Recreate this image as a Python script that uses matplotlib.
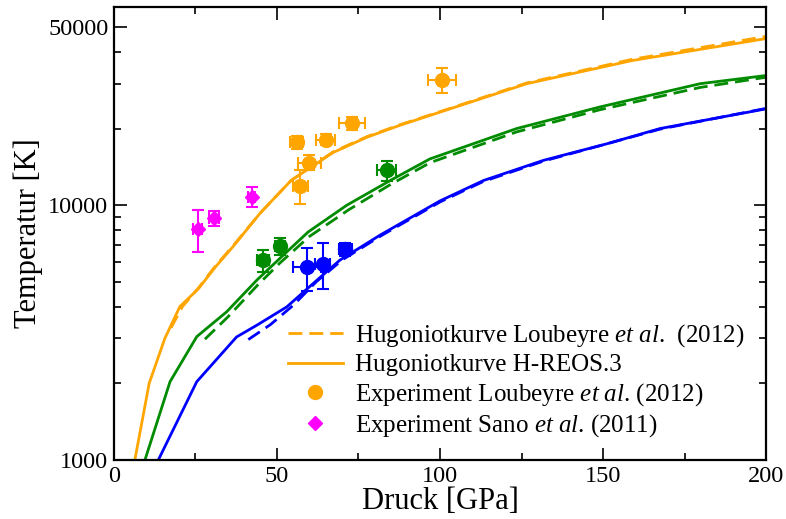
import matplotlib
matplotlib.use("Agg")
import matplotlib.pyplot as plt
from matplotlib.lines import Line2D
from matplotlib.ticker import FixedLocator, FixedFormatter, NullFormatter

plt.rcParams['font.family'] = ['Liberation Serif', 'DejaVu Serif']
plt.rcParams['mathtext.fontset'] = 'custom'
plt.rcParams['mathtext.rm'] = 'Liberation Serif'
plt.rcParams['mathtext.it'] = 'Liberation Serif:italic'

# Hugoniot curves: H-REOS.3 (solid) and Loubeyre et al. 2012 (dashed)
p_orange_reos = [6.4, 10.8, 15.6, 20.2, 25.9, 31.0, 36.6, 44.8, 54.3, 67.2, 77.6, 87.7, 100, 126.6, 159, 200]
t_orange_reos = [1000, 2000, 3000, 4000, 4700, 5700, 6900, 9300, 12500, 16100, 18500, 20600, 23200, 30000, 37000, 45100]
p_orange_loub = [17.5, 21.0, 26.0, 31.0, 36.6, 44.8, 54.3, 67.2, 77.6, 87.7, 100, 126.6, 159, 200]
t_orange_loub = [3300, 4000, 4750, 5750, 6950, 9300, 12500, 16200, 18600, 20700, 23300, 30200, 37400, 46000]

p_green_reos = [9.5, 17.2, 25.4, 34.6, 43.8, 50.9, 59.6, 71.4, 84.7, 96.9, 123.5, 149, 179.8, 200]
t_green_reos = [1000, 2030, 3050, 3820, 5080, 6190, 7860, 10000, 12500, 15200, 20000, 24300, 30000, 32300]
p_green_loub = [27.9, 35.0, 44.0, 51.0, 60.0, 72.0, 85.0, 97.0, 123.5, 149, 179.8, 200]
t_green_loub = [2980, 3650, 4850, 5950, 7550, 9600, 12100, 14700, 19400, 23700, 29000, 31800]

p_blue_reos = [13.6, 25.4, 37.6, 43.8, 53.0, 61.1, 69.3, 81.6, 100, 113.3, 131.7, 151, 167.5, 200]
t_blue_reos = [1000, 2030, 3040, 3380, 3990, 4930, 6090, 7630, 10400, 12500, 15000, 17400, 20000, 23900]
p_blue_loub = [41.2, 48.0, 55.0, 62.0, 70.0, 82.0, 100, 113.3, 131.7, 151, 167.5, 200]
t_blue_loub = [2970, 3400, 4050, 5000, 6100, 7600, 10300, 12400, 14900, 17400, 19900, 24000]

# Experimental data, Loubeyre et al. (2012)
p_orange_exp = [56.0, 64.9, 73.1, 59.9, 57.1, 100.6]
t_orange_exp = [17700, 18100, 21000, 14700, 11900, 31100]
perr_orange = [2.1, 3.0, 4.0, 3.6, 2.3, 4.2]
terr_orange = [1000, 900, 1300, 1000, 1800, 3400]

p_green_exp = [45.8, 50.9, 83.6]
t_green_exp = [6080, 6920, 13700]
perr_green = [1.8, 1.5, 3.0]
terr_green = [600, 550, 1200]

p_blue_exp = [59.1, 64.0, 70.9]
t_blue_exp = [5700, 5900, 6710]
perr_blue = [4.3, 2.3, 2.0]
terr_blue = [1100, 1200, 400]

# Experimental data, Sano et al. (2011)
p_sano = [25.7, 30.7, 42.2]
t_sano = [8040, 8910, 10800]
perr_sano = [1.4, 1.5, 1.0]
terr_sano = [1500, 600, 950]

ORANGE = '#FFA500'
GREEN = '#008B00'
BLUE = '#0000FF'
MAGENTA = '#FF00FF'

fig = plt.figure(figsize=(7.86, 5.19), dpi=100)
ax = fig.add_axes([0.145, 0.1137, 0.8296, 0.8728])

lw = 2.0
dash = (5, 2.5)
for c, ps, ts, pl, tl in [(ORANGE, p_orange_reos, t_orange_reos, p_orange_loub, t_orange_loub),
                          (GREEN, p_green_reos, t_green_reos, p_green_loub, t_green_loub),
                          (BLUE, p_blue_reos, t_blue_reos, p_blue_loub, t_blue_loub)]:
    ax.plot(ps, ts, color=c, lw=lw, solid_joinstyle='miter')
    ax.plot(pl, tl, color=c, lw=lw, dashes=dash)

for c, p, t, pe, te in [(ORANGE, p_orange_exp, t_orange_exp, perr_orange, terr_orange),
                        (GREEN, p_green_exp, t_green_exp, perr_green, terr_green),
                        (BLUE, p_blue_exp, t_blue_exp, perr_blue, terr_blue)]:
    ax.errorbar(p, t, xerr=pe, yerr=te, fmt='o', color=c, ms=10, elinewidth=1.5,
                capsize=4.5, capthick=1.5, zorder=4)

ax.errorbar(p_sano, t_sano, xerr=perr_sano, yerr=terr_sano, fmt='D', color=MAGENTA,
            ms=7.5, elinewidth=1.5, capsize=4.5, capthick=1.5, zorder=4)

ax.set_yscale('log')
ax.set_xlim(0, 200)
ax.set_ylim(1000, 60000)

ax.xaxis.set_major_locator(FixedLocator([0, 50, 100, 150, 200]))
ax.xaxis.set_minor_locator(FixedLocator([25, 75, 125, 175]))
ax.yaxis.set_major_locator(FixedLocator([1000, 10000, 50000]))
ax.yaxis.set_major_formatter(FixedFormatter(['1000', '10000', '50000']))
ax.yaxis.set_minor_locator(FixedLocator([2000, 3000, 4000, 5000, 6000, 7000, 8000, 9000,
                                         20000, 30000, 40000]))
ax.yaxis.set_minor_formatter(NullFormatter())

ax.tick_params(which='both', direction='in', top=True, right=True, labelsize=17.5, width=1.2)
ax.tick_params(which='major', length=9, pad=4)
ax.tick_params(which='minor', length=5)
for s in ax.spines.values():
    s.set_linewidth(1.6)

ax.set_xlabel('Druck [GPa]', fontsize=22, labelpad=0)
ax.set_ylabel('Temperatur [K]', fontsize=22, labelpad=4)

handles = [
    Line2D([], [], color=ORANGE, lw=lw, dashes=dash),
    Line2D([], [], color=ORANGE, lw=lw),
    Line2D([], [], color=ORANGE, marker='o', ls='none', ms=10),
    Line2D([], [], color=MAGENTA, marker='D', ls='none', ms=7.5),
]
labels = [
    r'Hugoniotkurve Loubeyre $\mathit{et\ al}$.  (2012)',
    'Hugoniotkurve H-REOS.3',
    r'Experiment Loubeyre $\mathit{et\ al}$. (2012)',
    r'Experiment Sano $\mathit{et\ al}$. (2011)',
]
ax.legend(handles, labels, loc='lower right', bbox_to_anchor=(0.99, 0.013), frameon=False,
          fontsize=18, handlelength=2.2, handletextpad=0.5, labelspacing=0.18,
          borderaxespad=0.2)

fig.savefig('out.png', dpi=100)
